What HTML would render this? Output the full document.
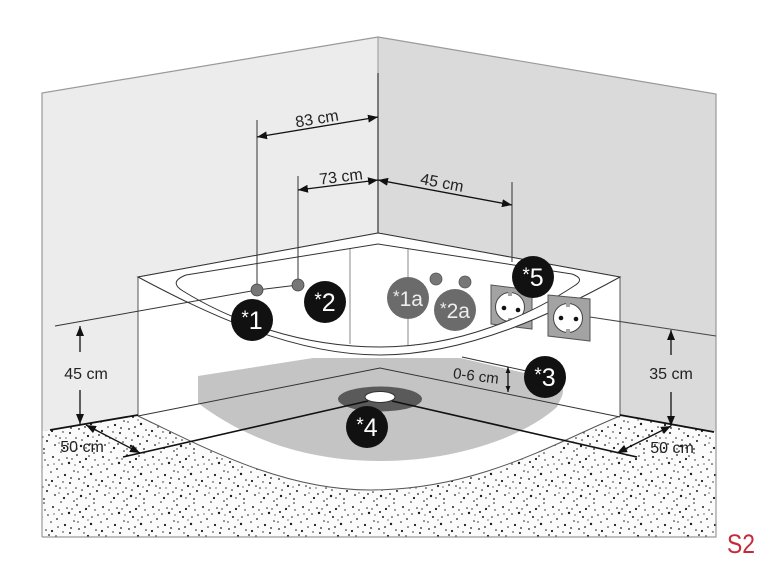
<!DOCTYPE html>
<html><head><meta charset="utf-8"><style>
html,body{margin:0;padding:0;background:#fff;}
svg{display:block;}
text{font-family:"Liberation Sans",Arial,sans-serif;}
</style></head><body>
<svg width="770" height="578" viewBox="0 0 770 578" xmlns="http://www.w3.org/2000/svg">
<defs>
<pattern id="dots" width="50" height="50" patternUnits="userSpaceOnUse">
<rect width="50" height="50" fill="#fbfbfb"/>
<g fill="#1a1a1a">
<circle cx="3" cy="7" r="1"/><circle cx="11" cy="2" r="0.8"/><circle cx="19" cy="13" r="1.2"/><circle cx="27" cy="5" r="0.9"/>
<circle cx="36" cy="9" r="1.1"/><circle cx="44" cy="3" r="0.8"/><circle cx="7" cy="19" r="0.9"/><circle cx="15" cy="25" r="1.1"/>
<circle cx="24" cy="21" r="0.8"/><circle cx="33" cy="17" r="1"/><circle cx="41" cy="24" r="1.2"/><circle cx="48" cy="15" r="0.8"/>
<circle cx="2" cy="31" r="1.1"/><circle cx="10" cy="38" r="0.8"/><circle cx="20" cy="33" r="1"/><circle cx="29" cy="29" r="0.9"/>
<circle cx="38" cy="36" r="1.1"/><circle cx="46" cy="30" r="0.8"/><circle cx="5" cy="45" r="0.9"/><circle cx="14" cy="48" r="1.1"/>
<circle cx="23" cy="42" r="0.8"/><circle cx="31" cy="46" r="1.2"/><circle cx="40" cy="44" r="0.9"/><circle cx="47" cy="41" r="1"/>
<circle cx="17" cy="8" r="0.8"/><circle cx="30" cy="12" r="1"/><circle cx="8" cy="27" r="0.8"/><circle cx="35" cy="27" r="0.9"/>
<circle cx="26" cy="38" r="0.8"/><circle cx="44" cy="49" r="0.9"/><circle cx="12" cy="14" r="0.8"/><circle cx="21" cy="28" r="0.9"/>
<circle cx="39" cy="6" r="0.8"/><circle cx="1" cy="22" r="0.8"/><circle cx="49" cy="35" r="0.9"/><circle cx="32" cy="40" r="0.8"/>
<circle cx="18" cy="44" r="0.9"/><circle cx="6" cy="36" r="0.8"/><circle cx="24" cy="1" r="0.8"/><circle cx="42" cy="17" r="0.8"/>
<circle cx="13" cy="32" r="0.7"/><circle cx="36" cy="48" r="0.7"/><circle cx="28" cy="22" r="0.7"/><circle cx="9" cy="10" r="0.7"/>
<circle cx="45" cy="10" r="0.7"/><circle cx="4" cy="14" r="0.6"/><circle cx="22" cy="9" r="0.7"/><circle cx="16" cy="38" r="0.6"/>
<circle cx="34" cy="33" r="0.7"/><circle cx="43" cy="37" r="0.6"/><circle cx="27" cy="49" r="0.7"/><circle cx="9" cy="43" r="0.6"/>
<circle cx="38" cy="20" r="0.6"/><circle cx="25" cy="15" r="0.6"/>
</g>
</pattern>
<marker id="ar" viewBox="0 0 10 8" refX="10" refY="4" markerWidth="10" markerHeight="8" markerUnits="userSpaceOnUse" orient="auto-start-reverse">
<path d="M0,0L10,4L0,8Z" fill="#111"/>
</marker>
<marker id="ars" viewBox="0 0 10 8" refX="10" refY="4" markerWidth="6" markerHeight="5" markerUnits="userSpaceOnUse" orient="auto-start-reverse">
<path d="M0,0L10,4L0,8Z" fill="#111"/>
</marker>
</defs>

<!-- floor -->
<rect x="42" y="412" width="674" height="125" fill="url(#dots)"/>

<!-- walls -->
<polygon points="42,93 378,37 378,420 138,415 50,430 42,431" fill="#ececec"/>
<polygon points="378,37 716,94 716,432 620,416 378,420" fill="#dadada"/>
<polyline points="42,537 42,93 378,37 716,94 716,537 42,537" fill="none" stroke="#9a9a9a" stroke-width="1.2"/>
<line x1="378" y1="37" x2="378" y2="73" stroke="#999" stroke-width="1"/>
<line x1="378" y1="73" x2="378" y2="234" stroke="#333" stroke-width="1.2"/>

<!-- tub base -->
<path d="M138,277 L378,233 L620,277 L620,416 C560,440 480,490 370,490 C280,490 200,445 138,416 Z" fill="#fff" stroke="#555" stroke-width="1"/>

<!-- shaded base -->
<path d="M198,376 L313,358 L460,358 L555,380 Q566,385 562,396 L557,407 C520,440 450,461 380,461 C300,461 240,435 198,403 Z" fill="#c4c4c4"/>

<!-- base V lines -->
<polyline points="138,416 380,368 620,417" fill="none" stroke="#333" stroke-width="1"/>
<line x1="462" y1="357" x2="545" y2="375" stroke="#333" stroke-width="1"/>

<!-- inner panel lines -->
<line x1="350" y1="248" x2="350" y2="344" stroke="#888" stroke-width="1"/>
<line x1="408" y1="248" x2="408" y2="346" stroke="#888" stroke-width="1"/>

<!-- socket 1 -->
<polygon points="491,285 532,290 532,329 491,324" fill="#a3a3a3" stroke="#555" stroke-width="1"/>
<circle cx="510" cy="307" r="14.5" fill="#fff" stroke="#444" stroke-width="1"/>
<rect x="508" y="292" width="4" height="4" fill="#a3a3a3"/>
<rect x="508" y="318" width="4" height="4" fill="#a3a3a3"/>
<circle cx="504" cy="308" r="2.3" fill="#111"/><circle cx="518" cy="310" r="2.3" fill="#111"/>

<!-- small dots 1a/2a -->
<circle cx="436" cy="279" r="6" fill="#777" stroke="#555" stroke-width="0.8"/>
<circle cx="465" cy="282" r="6" fill="#777" stroke="#555" stroke-width="0.8"/>

<!-- rim band -->
<path fill-rule="evenodd" d="M138,277 L378,233 L620,277 C560,310 470,355 380,355 C290,355 200,310 138,277 Z M186,275 L378,244 L572,274 Q586,279 574,286 C530,315 460,347 380,347 C300,347 230,320 183,291 Q168,282 186,275 Z" fill="#fff" stroke="#333" stroke-width="1"/>

<!-- socket 2 -->
<polygon points="548,295 590,299 590,341 548,336" fill="#a3a3a3" stroke="#555" stroke-width="1"/>
<circle cx="568" cy="318" r="14.5" fill="#fff" stroke="#444" stroke-width="1"/>
<rect x="566" y="303" width="4" height="4" fill="#a3a3a3"/>
<rect x="566" y="329" width="4" height="4" fill="#a3a3a3"/>
<circle cx="561" cy="318" r="2.3" fill="#111"/><circle cx="576" cy="319" r="2.3" fill="#111"/>

<!-- reference lines -->
<line x1="55" y1="326" x2="257" y2="290" stroke="#333" stroke-width="1"/>
<line x1="257" y1="290" x2="298" y2="285" stroke="#333" stroke-width="1"/>
<line x1="590" y1="317" x2="716" y2="336" stroke="#444" stroke-width="1"/>

<!-- floor lines -->
<line x1="50" y1="430" x2="138" y2="415" stroke="#111" stroke-width="1.8"/>
<line x1="620" y1="415" x2="714" y2="432" stroke="#111" stroke-width="1.8"/>

<!-- drain -->
<ellipse cx="380" cy="399" rx="42" ry="12.5" fill="#5a5a5a"/>
<line x1="123" y1="457" x2="368" y2="401" stroke="#111" stroke-width="1.6"/>
<line x1="392" y1="401" x2="637" y2="457" stroke="#111" stroke-width="1.6"/>
<ellipse cx="380" cy="397" rx="15" ry="5.5" fill="#fff" stroke="#333" stroke-width="1"/>

<!-- vertical extension lines -->
<line x1="257" y1="120" x2="257" y2="290" stroke="#333" stroke-width="1"/>
<line x1="298" y1="176" x2="298" y2="285" stroke="#333" stroke-width="1"/>
<line x1="512" y1="182" x2="512" y2="262" stroke="#333" stroke-width="1"/>

<!-- dimension arrows -->
<g stroke="#111" stroke-width="1.3" fill="none">
<line x1="257" y1="137" x2="378" y2="117" marker-start="url(#ar)" marker-end="url(#ar)"/>
<line x1="298" y1="190" x2="378" y2="180" marker-start="url(#ar)" marker-end="url(#ar)"/>
<line x1="378" y1="180" x2="512" y2="205" marker-start="url(#ar)" marker-end="url(#ar)"/>
<line x1="80" y1="352" x2="80" y2="326" marker-end="url(#ar)"/>
<line x1="80" y1="390" x2="80" y2="424" marker-end="url(#ar)"/>
<line x1="671" y1="355" x2="671" y2="330" marker-end="url(#ar)"/>
<line x1="671" y1="392" x2="671" y2="426" marker-end="url(#ar)"/>
<line x1="86" y1="425" x2="140" y2="453" marker-start="url(#ar)" marker-end="url(#ar)"/>
<line x1="671" y1="426" x2="617" y2="453" marker-start="url(#ar)" marker-end="url(#ar)"/>
<line x1="508" y1="367" x2="508" y2="392" marker-start="url(#ars)" marker-end="url(#ars)"/>
</g>

<!-- dot markers -->
<circle cx="257" cy="290" r="6" fill="#777" stroke="#444" stroke-width="0.8"/>
<circle cx="298" cy="285" r="6" fill="#777" stroke="#444" stroke-width="0.8"/>

<!-- dimension labels -->
<g fill="#222" font-size="16">
<text x="317" y="124" text-anchor="middle" transform="rotate(-9.4 317 119)">83 cm</text>
<text x="341" y="182" text-anchor="middle" transform="rotate(-7 341 177)">73 cm</text>
<text x="442" y="188" text-anchor="middle" transform="rotate(10.6 442 183)">45 cm</text>
<text x="86" y="379" text-anchor="middle">45 cm</text>
<text x="671" y="379" text-anchor="middle">35 cm</text>
<text x="82" y="452" text-anchor="middle">50 cm</text>
<text x="672" y="453" text-anchor="middle">50 cm</text>
<text x="476" y="381" text-anchor="middle" font-size="15" transform="rotate(7 476 376)">0-6 cm</text>
</g>

<!-- gray badges -->
<circle cx="408" cy="298" r="21" fill="#6b6b6b"/>
<text x="408" y="306" text-anchor="middle" fill="#eee" font-size="21"><tspan font-size="17" dy="-4">*</tspan><tspan dy="4">1a</tspan></text>
<circle cx="455" cy="310" r="21" fill="#6b6b6b"/>
<text x="455" y="318" text-anchor="middle" fill="#eee" font-size="21"><tspan font-size="17" dy="-4">*</tspan><tspan dy="4">2a</tspan></text>

<!-- black badges -->
<g fill="#111">
<circle cx="252" cy="320" r="21"/>
<circle cx="325" cy="302" r="21"/>
<circle cx="545" cy="377" r="21"/>
<circle cx="367" cy="427" r="21"/>
<circle cx="533" cy="277" r="21"/>
</g>
<g fill="#fff" font-size="25" text-anchor="middle">
<text x="252" y="329"><tspan font-size="19" dy="-5">*</tspan><tspan dy="5">1</tspan></text>
<text x="325" y="311"><tspan font-size="19" dy="-5">*</tspan><tspan dy="5">2</tspan></text>
<text x="545" y="386"><tspan font-size="19" dy="-5">*</tspan><tspan dy="5">3</tspan></text>
<text x="367" y="436"><tspan font-size="19" dy="-5">*</tspan><tspan dy="5">4</tspan></text>
<text x="533" y="286"><tspan font-size="19" dy="-5">*</tspan><tspan dy="5">5</tspan></text>
</g>

<!-- S2 -->
<text x="741" y="553" text-anchor="middle" fill="#c62a3a" font-size="27" textLength="28" lengthAdjust="spacingAndGlyphs">S2</text>
</svg>
</body></html>
